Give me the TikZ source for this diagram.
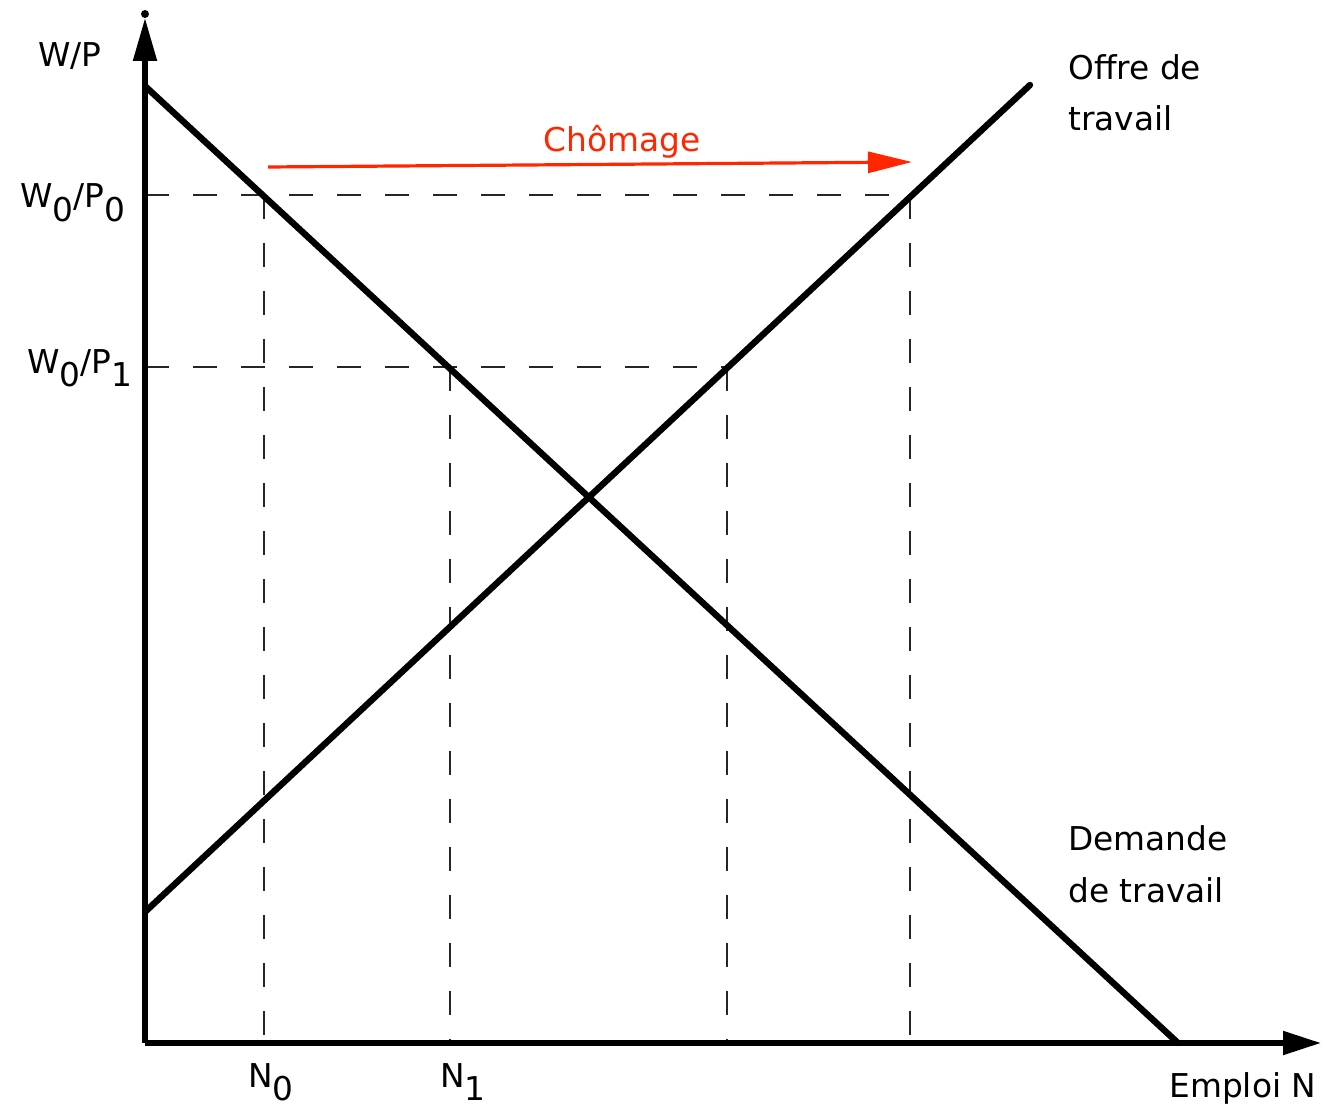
\documentclass[tikz,border=0pt]{standalone}
\usepackage{fontspec}
\setmainfont{DejaVu Sans}
\usetikzlibrary{arrows.meta}
\definecolor{chored}{RGB}{255,38,0}
\newcommand{\lowsub}[1]{\raisebox{-0.42em}{#1}}
\begin{document}
\begin{tikzpicture}[x=0.5pt,y=-0.5pt,
  lbl/.style={anchor=base west,inner sep=0pt,font=\fontsize{16.4}{20}\selectfont},
  guide/.style={line width=1.2pt,dash pattern=on 12pt off 12pt,black!85},
  curve/.style={line width=3.2pt,line cap=round},
  axis/.style={line width=2.6pt}]
\useasboundingbox (0,0) rectangle (1323,1107);
% coordinates
\coordinate (O) at (145,1043);
\coordinate (ytop) at (145,18);
\coordinate (xend) at (1321,1043);
\coordinate (d1) at (146,87);
\coordinate (d2) at (1178,1043);
\coordinate (s1) at (146,911);
\coordinate (s2) at (1030,85);
\coordinate (h0a) at (145,195);
\coordinate (h0b) at (910,195);
\coordinate (h1a) at (145,367);
\coordinate (h1b) at (727,367);
\coordinate (v0t) at (264,195);
\coordinate (v0b) at (264,1043);
\coordinate (v1t) at (450,367);
\coordinate (v1b) at (450,1043);
\coordinate (v2t) at (727,367);
\coordinate (v2b) at (727,1043);
\coordinate (v3t) at (910,195);
\coordinate (v3b) at (910,1043);
\coordinate (ca) at (268,167);
\coordinate (cb) at (912,162);
% dashed guides
\draw[guide] (h0a) -- (h0b);
\draw[guide] (h1a) -- (h1b);
\draw[guide] (v0t) -- (v0b);
\draw[guide] (v1t) -- (v1b);
\draw[guide] (v2t) -- (v2b);
\draw[guide] (v3t) -- (v3b);
% curves
\draw[curve] (d1) -- (d2);
\draw[curve] (s1) -- (s2);
% axes
\draw[axis,-{Triangle[length=21.5pt,width=11.5pt]}] (O) -- (ytop);
\draw[axis,-{Triangle[length=19pt,width=11.5pt]}] (O) -- (xend);
\fill (145,14) circle (2pt);
% unemployment arrow
\draw[chored,line width=1.6pt,-{Triangle[length=22pt,width=10.5pt]}] (ca) -- (cb);
\node[lbl,text=chored] (chom) at (543,152) {Chômage};
% labels
\node[lbl] (wp) at (38,67) {W/P};
\node[lbl] (w0p0) at (20,208) {W\lowsub{0}/P\lowsub{0}};
\node[lbl] (w0p1) at (27,373) {W\lowsub{0}/P\lowsub{1}};
\node[lbl] (n0) at (248,1087) {N\lowsub{0}};
\node[lbl] (n1) at (440,1087) {N\lowsub{1}};
\node[lbl] (emploi) at (1169,1097) {Emploi N};
\node[lbl] (offre1) at (1068,80) {Offre de};
\node[lbl] (offre2) at (1068,131) {travail};
\node[lbl] (dem1) at (1068,850) {Demande};
\node[lbl] (dem2) at (1068,902) {de travail};
\end{tikzpicture}
\end{document}
